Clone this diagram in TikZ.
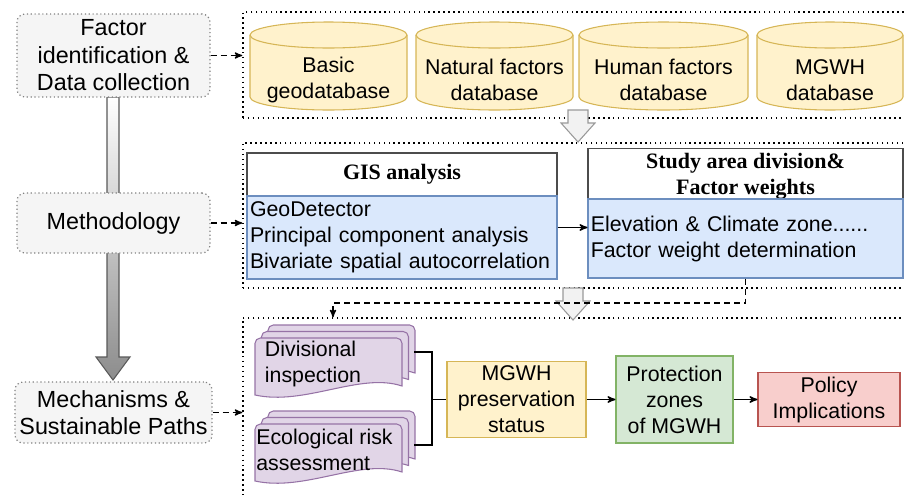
\documentclass[tikz,border=0pt]{standalone}
\usepackage{fontspec}
\setmainfont{Liberation Sans}
\newfontfamily\headfont{Liberation Serif}
\usepackage{tikz}
\usetikzlibrary{shapes.geometric}
\usetikzlibrary{positioning}
\usetikzlibrary{arrows}

\newcommand{\docstack}[2]{%
	\foreach \k in {2,1,0}{%
		\begin{scope}[shift={({#1+6.5*\k},{#2-6.5*\k})}]
			\filldraw[doc page] (0,57) [rounded corners=4pt] -- (0,0) -- (147,0) [sharp corners] -- (147,48) .. controls (105,34) and (50,68) .. (0,57) -- cycle;
		\end{scope}}}
\newcommand{\dbdrum}[2]{%
	\filldraw[db] ({#1-#2},35) -- ({#1-#2},97) arc[start angle=180,end angle=0,x radius=#2,y radius=13]
	-- ({#1+#2},35) arc[start angle=0,end angle=-180,x radius=#2,y radius=13] -- cycle;
	\draw[db] ({#1-#2},35) arc[start angle=180,end angle=0,x radius=#2,y radius=13];}

\begin{document}
\begin{tikzpicture}[->,>=stealth',x=0.75pt,y=-0.75pt,
	stage/.style={rectangle,rounded corners=6pt,draw=gray,dotted,line width=0.9pt,fill=stagegray,
		minimum width=144.75pt,align=center,font=\fontsize{17.5}{20.6}\selectfont},
	panel/.style={rectangle,draw,line width=1.1pt,dash pattern=on 1.1pt off 2.6pt,minimum width=500.25pt},
	db/.style={-,draw=dbline,fill=dbfill,line width=0.8pt},
	dbtext/.style={align=center,font=\fontsize{16}{19.5}\selectfont},
	lane head/.style={rectangle,draw=black!70,fill=white,line width=0.8pt,align=center,
		font=\headfont\bfseries\fontsize{16.5}{19.5}\selectfont},
	lane body/.style={rectangle,draw=laneline,fill=lanefill,line width=0.8pt,align=left,inner sep=2pt,
		font=\fontsize{16}{19.5}\selectfont},
	step box/.style={rectangle,line width=0.8pt,align=center,font=\fontsize{16}{19.5}\selectfont},
	doc page/.style={-,fill=docfill,draw=docline,line width=0.8pt},
	hollow/.style={-,fill=gray!10,draw=gray!80,line width=0.8pt},
	link/.style={dash pattern=on 4.5pt off 3pt,line width=1pt}]
	
	\definecolor{stagegray}{RGB}{245,245,245}
	\definecolor{dbfill}{RGB}{255,242,204}
	\definecolor{dbline}{RGB}{214,182,86}
	\definecolor{lanefill}{RGB}{218,232,252}
	\definecolor{laneline}{RGB}{108,142,191}
	\definecolor{docfill}{RGB}{225,213,231}
	\definecolor{docline}{RGB}{150,115,166}
	\definecolor{greenfill}{RGB}{213,232,212}
	\definecolor{greenline}{RGB}{130,179,102}
	\definecolor{redfill}{RGB}{248,206,204}
	\definecolor{redline}{RGB}{184,84,80}
	
	\useasboundingbox (0,0) rectangle (904,494);
	
	\node[panel, minimum height=79.5pt] (panA) at (576.5,65) {};
	\node[panel, minimum height=108.75pt] (panB) at (576.5,215.5) {};
	\node[panel, minimum height=136.5pt] (panC) at (576.5,409) {};
	
	\shade[-,top color=white,bottom color=gray!90,draw=gray!70!black,line width=0.8pt]
	(107,97) -- (119,97) -- (119,357) -- (130,357) -- (113,380) -- (96,357) -- (107,357) -- cycle;
	\filldraw[hollow] (568,110) -- (588,110) -- (588,123) -- (595,123) -- (578,142) -- (561,123) -- (568,123) -- cycle;
	\filldraw[hollow] (563,288) -- (583,288) -- (583,301) -- (590,301) -- (573,320) -- (556,301) -- (563,301) -- cycle;
	
	\node[stage, minimum height=62.25pt] (fac) at (113.5,55.5) {Factor\\identification \&\\Data collection};
	\node[stage, minimum height=45pt] (meth) at (113.5,223) {Methodology};
	\node[stage, minimum height=45.75pt] (mech) at (113.5,412.5) {Mechanisms \&\\Sustainable Paths};
	
	\dbdrum{328.5}{78.5}
	\dbdrum{494.5}{78.5}
	\dbdrum{663.5}{84.5}
	\dbdrum{830}{73}
	\node[dbtext] (basic) at (328.5,80) {Basic\\geodatabase};
	\node[dbtext] (natural) at (494.5,80) {Natural factors\\database};
	\node[dbtext] (human) at (663.5,80) {Human factors\\database};
	\node[dbtext] (mgwhdb) at (830,80) {MGWH\\database};
	
	\node[lane head, minimum width=232.5pt, minimum height=32.25pt] (gish) at (402,174.5) {GIS analysis};
	\node[lane body, minimum width=232.5pt, minimum height=62.25pt, text width=228pt] (gisb) at (402,237.5)
	{GeoDetector\\Principal component analysis\\Bivariate spatial autocorrelation};
	\node[lane head, minimum width=236.25pt, minimum height=34.5pt] (sh) at (745.5,176) {Study area division\&\\Factor weights};
	\node[lane body, minimum width=236.25pt, minimum height=59.25pt, text width=232pt] (sbody) at (745.5,238.5)
	{Elevation \& Climate zone......\\Factor weight determination};
	
	\docstack{255}{338}
	\docstack{255}{424}
	\node[dbtext, align=left] (div) at (313,364) {Divisional\\inspection};
	\node[dbtext, align=left] (eco) at (324.5,450) {Ecological risk\\assessment};
	\coordinate (divR) at (414,352);
	\coordinate (ecoR) at (414,445);
	\coordinate (turn) at (333,303);
	
	\node[step box, draw=dbline, fill=dbfill, minimum width=104.25pt, minimum height=56.25pt] (mgwh) at (516.5,399.5) {MGWH\\preservation\\status};
	\node[step box, draw=greenline, fill=greenfill, minimum width=87.75pt, minimum height=65.25pt] (prot) at (674.5,399.5) {Protection\\zones\\of MGWH};
	\node[step box, draw=redline, fill=redfill, minimum width=106.5pt, minimum height=37.5pt] (pol) at (829,399.5) {Policy\\Implications};
	
	\path[link]
	(fac.east) edge (fac.east -| panA.west)
	(meth.east) edge (meth.east -| panB.west)
	(mech.east) edge (mech.east -| panC.west);
	\draw[link] (sbody.south) |- (turn) -- (turn |- panC.north);
	
	\path[line width=1.1pt]
	([yshift=7.5pt]gisb.east) edge ([yshift=7.5pt]gisb.east -| sbody.west)
	(mgwh) edge (prot)
	(prot) edge (pol);
	\draw[-,line width=1.1pt] (divR) -- ++(18,0) |- (mgwh.west);
	\draw[-,line width=1.1pt] (ecoR) -- ++(18,0) |- (mgwh.west);
\end{tikzpicture}
\end{document}
